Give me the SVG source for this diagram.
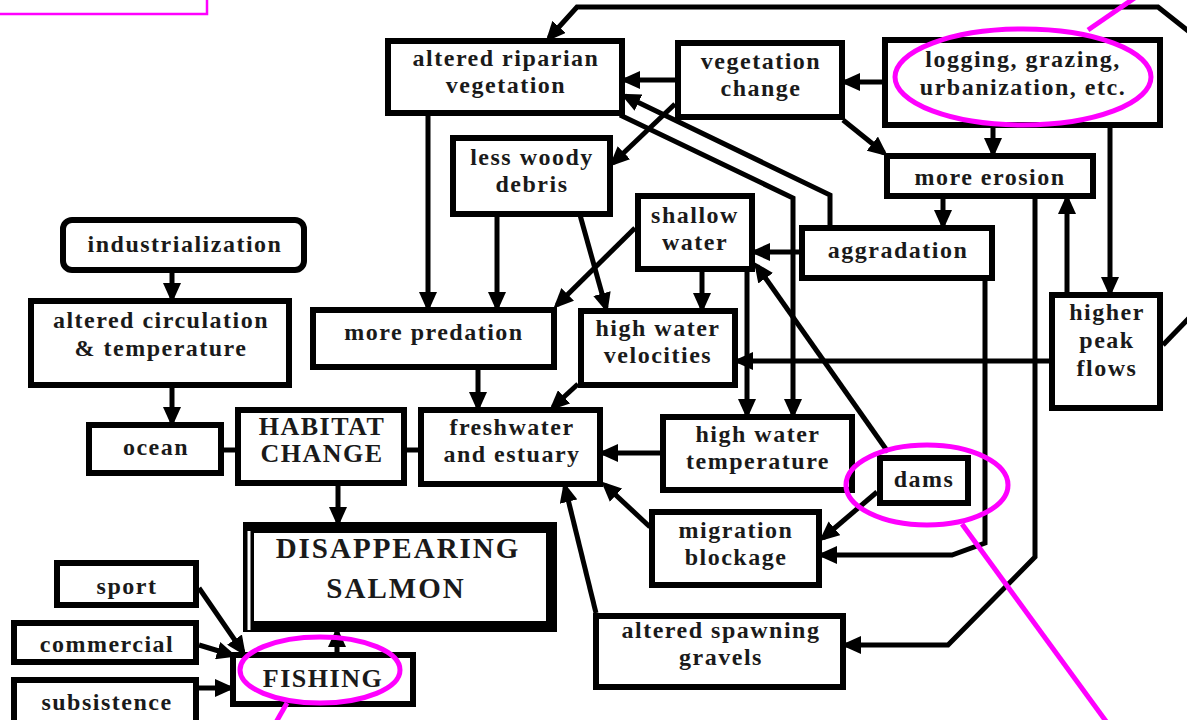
<svg xmlns="http://www.w3.org/2000/svg" width="1187" height="720" viewBox="0 0 1187 720">
<style>
.box{fill:#fff;stroke:#000;stroke-width:6}
.t{font-family:"Liberation Serif","Times New Roman",serif;font-weight:bold;font-size:24px;letter-spacing:1.5px;text-anchor:middle;fill:#1a1a1a}
.cap{font-size:26px}
.big{font-size:29px;letter-spacing:2px}
.c{fill:none;stroke:#000;stroke-width:5;stroke-linejoin:miter}
.a{marker-end:url(#ah)}
.m{fill:none;stroke:#ff00ff;stroke-width:5}
</style>
<defs>
<marker id="ah" viewBox="0 0 20 18" refX="15" refY="9" markerWidth="20" markerHeight="18" markerUnits="userSpaceOnUse" orient="auto">
<path d="M0,0 L20,9 L0,18 Z" fill="#000"/>
</marker>
</defs>

<g id="connectors">
<path class="c a" d="M675,80 L625,80"/>
<path class="c a" d="M882,82 L845,82"/>
<path class="c a" d="M675,104 L613,163"/>
<path class="c a" d="M843,120 L884,153"/>
<path class="c a" d="M993,128 L993,153"/>
<path class="c a" d="M1110,128 L1110,292"/>
<path class="c a" d="M1067,292 L1067,199"/>
<path class="c a" d="M943,199 L943,225"/>
<path class="c a" d="M1035,199 L1035,557 L948,645 L846,645"/>
<path class="c a" d="M799,252 L755,252"/>
<path class="c a" d="M985,281 L985,543 L952,555 L822,555"/>
<path class="c a" d="M830,225 L830,195 L625,96"/>
<path class="c a" d="M620,115 L793,198 L793,414"/>
<path class="c a" d="M702,272 L702,308"/>
<path class="c a" d="M635,228 L557,305"/>
<path class="c a" d="M747,272 L747,414"/>
<path class="c a" d="M497,217 L497,307"/>
<path class="c a" d="M428,116 L428,307"/>
<path class="c a" d="M580,215 L606,308"/>
<path class="c a" d="M478,370 L478,407"/>
<path class="c a" d="M578,384 L553,407"/>
<path class="c a" d="M660,453 L603,453"/>
<path class="c a" d="M650,527 L605,485"/>
<path class="c a" d="M596,613 L565,487"/>
<path class="c a" d="M877,492 L823,538"/>
<path class="c a" d="M888,452 L757,266"/>
<path class="c a" d="M1049,361 L738,361"/>
<path class="c a" d="M172,273 L172,298"/>
<path class="c a" d="M172,388 L172,422"/>
<path class="c" d="M224,450 L235,450"/>
<path class="c" d="M407,450 L418,450"/>
<path class="c a" d="M338,486 L338,522"/>
<path class="c a" d="M337,652 L337,632"/>
<path class="c a" d="M199,588 L243,652"/>
<path class="c a" d="M199,645 L232,655"/>
<path class="c a" d="M199,688 L230,688"/>
<path class="c a" d="M1192,34 L1158,7 L577,7 L549,38"/>
<path class="c" d="M1163,345 L1192,315"/>
</g>

<g id="n-riparian"><rect class="box" x="388" y="41" width="234" height="72"/><text class="t" x="506" y="66">altered riparian</text><text class="t" x="506" y="93">vegetation</text></g>
<g id="n-vegchange"><rect class="box" x="678" y="43" width="164" height="74"/><text class="t" x="761" y="69">vegetation</text><text class="t" x="761" y="96">change</text></g>
<g id="n-logging"><rect class="box" x="885" y="40" width="275" height="85"/><text class="t" x="1023" y="67">logging, grazing,</text><text class="t" x="1023" y="95">urbanization, etc.</text></g>
<g id="n-erosion"><rect class="box" x="887" y="156" width="206" height="40"/><text class="t" x="990" y="185">more erosion</text></g>
<g id="n-debris"><rect class="box" x="453" y="138" width="157" height="76"/><text class="t" x="532" y="165">less woody</text><text class="t" x="532" y="192">debris</text></g>
<g id="n-shallow"><rect class="box" x="638" y="196" width="114" height="73"/><text class="t" x="695" y="223">shallow</text><text class="t" x="695" y="250">water</text></g>
<g id="n-aggradation"><rect class="box" x="802" y="228" width="190" height="50"/><text class="t" x="898" y="258">aggradation</text></g>
<g id="n-industrialization"><rect class="box" x="63" y="220" width="241" height="50" rx="9"/><text class="t" x="185" y="252">industrialization</text></g>
<g id="n-circulation"><rect class="box" x="31" y="301" width="258" height="84"/><text class="t" x="161" y="328">altered circulation</text><text class="t" x="161" y="356">&amp; temperature</text></g>
<g id="n-ocean"><rect class="box" x="89" y="425" width="132" height="48"/><text class="t" x="156" y="455">ocean</text></g>
<g id="n-habitat"><rect class="box" x="238" y="410" width="166" height="73"/><text class="t cap" x="322" y="435">HABITAT</text><text class="t cap" x="322" y="462">CHANGE</text></g>
<g id="n-predation"><rect class="box" x="313" y="310" width="241" height="57"/><text class="t" x="434" y="340">more predation</text></g>
<g id="n-velocities"><rect class="box" x="581" y="311" width="154" height="74"/><text class="t" x="658" y="336">high water</text><text class="t" x="658" y="363">velocities</text></g>
<g id="n-freshwater"><rect class="box" x="421" y="410" width="179" height="74"/><text class="t" x="512" y="435">freshwater</text><text class="t" x="512" y="462">and estuary</text></g>
<g id="n-temperature"><rect class="box" x="663" y="417" width="189" height="73"/><text class="t" x="758" y="442">high water</text><text class="t" x="758" y="469">temperature</text></g>
<g id="n-dams"><rect class="box" x="880" y="458" width="88" height="45"/><text class="t" x="924" y="487">dams</text></g>
<g id="n-migration"><rect class="box" x="652" y="512" width="167" height="73"/><text class="t" x="736" y="538">migration</text><text class="t" x="736" y="565">blockage</text></g>
<g id="n-peak"><rect class="box" x="1052" y="295" width="108" height="113"/><text class="t" x="1107" y="320">higher</text><text class="t" x="1107" y="348">peak</text><text class="t" x="1107" y="376">flows</text></g>
<g id="n-spawning"><rect class="box" x="596" y="616" width="247" height="71"/><text class="t" x="721" y="638">altered spawning</text><text class="t" x="721" y="665">gravels</text></g>
<g id="n-salmon"><rect x="248.5" y="527.5" width="303" height="99" fill="#fff" stroke="#000" stroke-width="11"/><line x1="249" y1="531" x2="249" y2="630" stroke="#fff" stroke-width="3"/><text class="t big" x="398" y="558">DISAPPEARING</text><text class="t big" x="396" y="598">SALMON</text></g>
<g id="n-fishing"><rect class="box" x="233" y="655" width="180" height="49"/><text class="t cap" x="323" y="687">FISHING</text></g>
<g id="n-sport"><rect class="box" x="57" y="563" width="139" height="42"/><text class="t" x="127" y="594">sport</text></g>
<g id="n-commercial"><rect class="box" x="14" y="623" width="182" height="39"/><text class="t" x="107" y="652">commercial</text></g>
<g id="n-subsistence"><rect class="box" x="14" y="680" width="182" height="48"/><text class="t" x="107" y="710">subsistence</text></g>

<g id="annotations">
<rect x="-5" y="-5" width="212" height="19" fill="none" stroke="#ff00ff" stroke-width="2.5"/>
<ellipse class="m" cx="1023" cy="77" rx="128" ry="48"/>
<line class="m" x1="1088" y1="30" x2="1136" y2="-3" stroke-width="6"/>
<ellipse class="m" cx="927" cy="485" rx="81" ry="40"/>
<line class="m" x1="962" y1="524" x2="1108" y2="724" stroke-width="6"/>
<ellipse class="m" cx="320" cy="670" rx="80" ry="33"/>
<line class="m" x1="287" y1="703" x2="275" y2="724" stroke-width="6"/>
</g>
</svg>
